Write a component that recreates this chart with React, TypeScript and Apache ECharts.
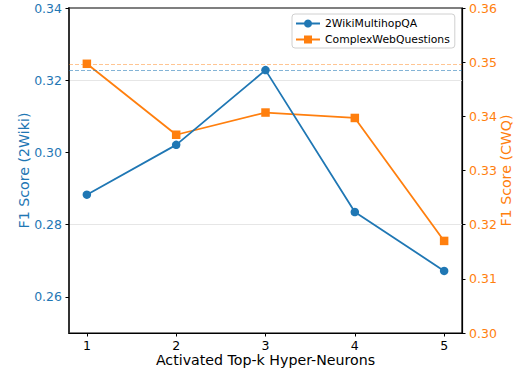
import React, { useEffect, useRef } from "react";
import * as echarts from "echarts";

const kValues = [1, 2, 3, 4, 5];
const wikiF1 = [0.2883, 0.3021, 0.3228, 0.2835, 0.2672];
const cwqF1 = [0.3497, 0.3366, 0.3407, 0.3397, 0.317];
const xTicks = [1, 2, 3, 4, 5];
const leftTicks = [0.26, 0.28, 0.3, 0.32, 0.34];
const rightTicks = [0.3, 0.31, 0.32, 0.33, 0.34, 0.35, 0.36];

const BLUE = "#1f77b4";
const ORANGE = "#ff7f0e";
const FONT = "DejaVu Sans";

export default function App() {
  const ref = useRef<HTMLDivElement>(null);
  useEffect(() => {
    if (!ref.current) return;
    const chart = echarts.init(ref.current, undefined, { renderer: "svg" });
    const wikiData = kValues.map((k, i) => [k, wikiF1[i]]);
    const cwqData = kValues.map((k, i) => [k, cwqF1[i]]);
    chart.setOption({
      animation: false,
      backgroundColor: "#fff",
      textStyle: { fontFamily: FONT },
      grid: {
        left: 69,
        right: 57,
        top: 8,
        bottom: 43,
        outerBoundsMode: "none",
        containLabel: false,
        show: true,
        borderColor: "#000",
        borderWidth: 1.2,
        backgroundColor: "transparent",
      },
      legend: {
        orient: "vertical",
        left: 292,
        top: 14,
        padding: [4, 5, 3, 3],
        itemWidth: 24,
        itemHeight: 10,
        itemGap: 5,
        borderColor: "#d0d0d0",
        borderWidth: 1,
        borderRadius: 3,
        backgroundColor: "rgba(255,255,255,0.8)",
        textStyle: { fontFamily: FONT, fontSize: 10.8, color: "#000", lineHeight: 11 },
        data: ["2WikiMultihopQA", "ComplexWebQuestions"],
      },
      xAxis: {
        type: "value",
        min: 0.8,
        max: 5.2,
        name: "Activated Top-k Hyper-Neurons",
        nameLocation: "middle",
        nameGap: 20,
        nameMoveOverlap: false,
        nameTextStyle: { fontFamily: FONT, fontSize: 14.2, color: "#000" },
        axisLine: { show: true, onZero: false, lineStyle: { color: "#000", width: 1.2 } },
        axisTick: { show: true, length: 3.5, customValues: xTicks, lineStyle: { color: "#000", width: 1 } },
        axisLabel: {
          customValues: xTicks,
          margin: 6,
          fontFamily: FONT,
          fontSize: 12.5,
          color: "#000",
          formatter: (v: number) => String(v),
        },
        splitLine: { show: false },
      },
      yAxis: [
        {
          type: "value",
          position: "left",
          min: 0.25,
          max: 0.34,
          interval: 0.01,
          name: "F1 Score (2Wiki)",
          nameLocation: "middle",
          nameGap: 38,
          nameMoveOverlap: false,
          nameTextStyle: { fontFamily: FONT, fontSize: 14.2, color: BLUE },
          axisLine: { show: true, lineStyle: { color: "#333", width: 2 } },
          axisTick: { show: true, length: 3.5, customValues: leftTicks, lineStyle: { color: "#000", width: 1 } },
          axisLabel: {
            customValues: leftTicks,
            margin: 7,
            fontFamily: FONT,
            fontSize: 12.5,
            color: BLUE,
            formatter: (v: number) => v.toFixed(2),
          },
          splitLine: { show: true, lineStyle: { color: ["transparent", "#e6e6e6"], width: 1 } },
        },
        {
          type: "value",
          position: "right",
          min: 0.3,
          max: 0.36,
          interval: 0.01,
          name: "F1 Score (CWQ)",
          nameLocation: "middle",
          nameGap: 37,
          nameRotate: 90,
          nameMoveOverlap: false,
          nameTextStyle: { fontFamily: FONT, fontSize: 14.2, color: ORANGE },
          axisLine: { show: true, lineStyle: { color: "#000", width: 1.2 } },
          axisTick: { show: true, length: 3.5, customValues: rightTicks, lineStyle: { color: "#000", width: 1 } },
          axisLabel: {
            customValues: rightTicks,
            margin: 7,
            fontFamily: FONT,
            fontSize: 12.5,
            color: ORANGE,
            formatter: (v: number) => v.toFixed(2),
          },
          splitLine: { show: false },
        },
      ],
      series: [
        {
          name: "2WikiMultihopQA",
          type: "line",
          yAxisIndex: 0,
          data: wikiData,
          symbol: "circle",
          symbolSize: 8.5,
          itemStyle: { color: BLUE },
          lineStyle: { color: BLUE, width: 1.8 },
          z: 3,
          markLine: {
            silent: true,
            symbol: "none",
            precision: 4,
            label: { show: false },
            lineStyle: { type: [4, 2], color: "rgba(31,119,180,0.55)", width: 1 },
            data: [{ yAxis: Math.max(...wikiF1) }],
          },
        },
        {
          name: "ComplexWebQuestions",
          type: "line",
          yAxisIndex: 1,
          data: cwqData,
          symbol: "rect",
          symbolSize: 8.5,
          itemStyle: { color: ORANGE },
          lineStyle: { color: ORANGE, width: 1.8 },
          z: 2,
          markLine: {
            silent: true,
            symbol: "none",
            precision: 4,
            label: { show: false },
            lineStyle: { type: [4, 2], color: "rgba(255,127,14,0.45)", width: 1 },
            data: [{ yAxis: Math.max(...cwqF1) }],
          },
        },
      ],
    });
    return () => chart.dispose();
  }, []);
  return <div ref={ref} style={{ position: "fixed", left: 0, top: 0, width: 519, height: 376 }} />;
}
